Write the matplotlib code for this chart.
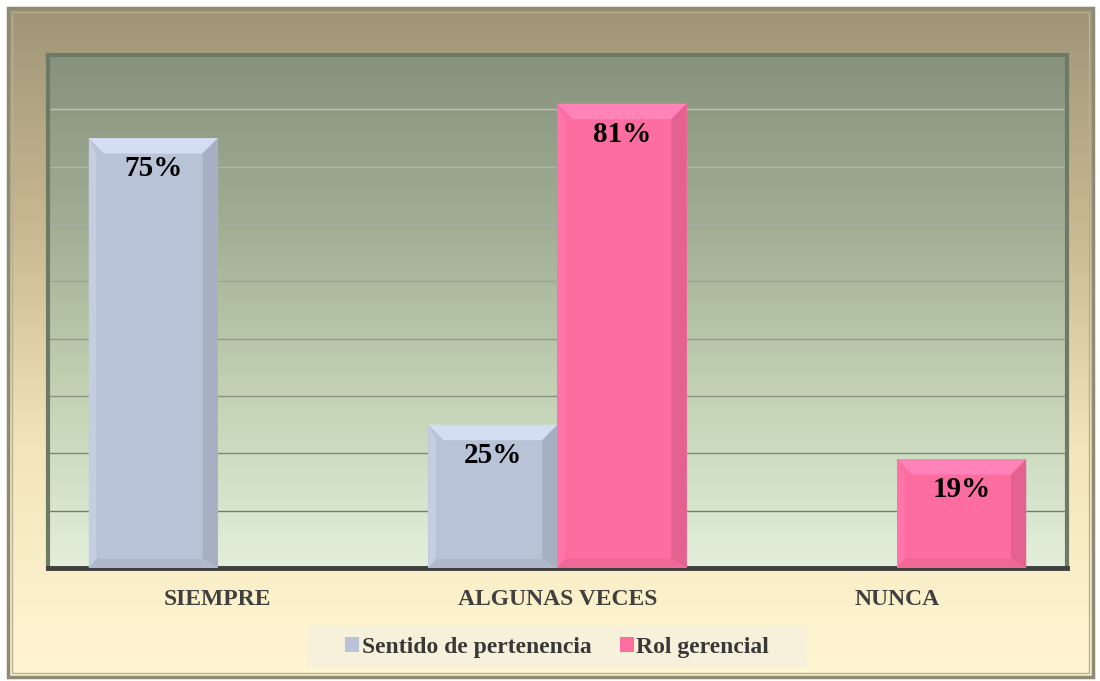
import numpy as np
import matplotlib
matplotlib.use("Agg")
import matplotlib.pyplot as plt
from matplotlib.patches import Rectangle, Polygon
from matplotlib.colors import LinearSegmentedColormap, to_rgb

categories = ["SIEMPRE", "ALGUNAS VECES", "NUNCA"]
series_names = ["Sentido de pertenencia", "Rol gerencial"]
sentido = [0.75, 0.25, 0.0]
rol = [0.0, 0.81, 0.19]
value_labels_sentido = ["75%", "25%", ""]
value_labels_rol = ["", "81%", "19%"]
grid_levels = [0.1, 0.2, 0.3, 0.4, 0.5, 0.6, 0.7, 0.8]

serif = ["Liberation Serif", "DejaVu Serif"]
col_sentido = "#b9c3d7"
col_rol = "#fd6d9f"

fig = plt.figure(figsize=(11, 6.81), dpi=100, facecolor="white")

# figure background gradient
bg = fig.add_axes([0, 0, 1, 1], zorder=-10)
bg.set_xlim(0, 1100)
bg.set_ylim(681, 0)
bg.axis("off")
bg_cmap = LinearSegmentedColormap.from_list("bg", ["#9f9577", "#c9b992", "#f3e6bc", "#fff6d2"])
grad = np.linspace(0, 1, 256).reshape(-1, 1)
bg.imshow(grad, cmap=bg_cmap, extent=[8, 1093, 677, 8], aspect="auto", zorder=0)
bg.add_patch(Rectangle((8, 8), 1085, 669, fill=False, ec="#8f8a72", lw=2.5, zorder=2))
bg.add_patch(Rectangle((12, 12), 1077, 661, fill=False, ec="#b8b094", lw=1, zorder=2))
# legend box
bg.add_patch(Rectangle((307, 626), 500, 42, fc="#f7f0da", ec="none", zorder=1))

ax = fig.add_axes([48 / 1100, 113 / 681, 1019 / 1100, 513 / 681])
ax.set_xlim(-0.5, 2.5)
ax.set_ylim(0, 0.895)
plot_cmap = LinearSegmentedColormap.from_list("pa", ["#e3efdb", "#c3d3b4", "#a2ae94", "#87927d"])
ax.imshow(grad[::-1], cmap=plot_cmap, extent=[-0.5, 2.5, 0, 0.895], aspect="auto", origin="upper", zorder=0)

# gridlines, lighter on the dark top, darker on the light bottom
for g in grid_levels:
    t = g / 0.895
    c = np.array(to_rgb("#6c7068")) * (1 - t) + np.array(to_rgb("#c4cabc")) * t
    ax.axhline(g, color=c, lw=1, zorder=1)

x = np.arange(len(categories))
w = 0.38
b1 = ax.bar(x - w / 2, sentido, w, color=col_sentido, zorder=3, label=series_names[0])
b2 = ax.bar(x + w / 2, rol, w, color=col_rol, zorder=3, label=series_names[1])

# bevel look: trapezoid facets around each bar
dx, dy = 0.045, 0.027
for bars, base in [(b1, col_sentido), (b2, col_rol)]:
    rgb = np.array(to_rgb(base))
    light = np.minimum(rgb * 1.06 + 0.06, 1)
    dark = rgb * 0.9
    for p in bars:
        h = p.get_height()
        if h <= 0:
            continue
        x0, bw = p.get_x(), p.get_width()
        x1 = x0 + bw
        facets = [
            ([(x0, h), (x1, h), (x1 - dx, h - dy), (x0 + dx, h - dy)], light),
            ([(x1, h), (x1, 0), (x1 - dx, dy * 0.6), (x1 - dx, h - dy)], dark),
            ([(x0, h), (x0 + dx * 0.5, h - dy), (x0 + dx * 0.5, dy * 0.6), (x0, 0)], np.minimum(rgb * 1.03 + 0.02, 1)),
            ([(x0, 0), (x1, 0), (x1 - dx, dy * 0.6), (x0 + dx * 0.5, dy * 0.6)], rgb * 0.95),
        ]
        for pts, fc in facets:
            ax.add_patch(Polygon(pts, closed=True, fc=fc, ec="none", zorder=4))

for bars, labels in [(b1, value_labels_sentido), (b2, value_labels_rol)]:
    for p, lab in zip(bars, labels):
        if lab:
            ax.annotate(lab, (p.get_x() + p.get_width() / 2, p.get_height()),
                        xytext=(0, -22), textcoords="offset points", ha="center", va="center",
                        fontsize=21, fontweight="bold", family=serif, color="black", zorder=5)

ax.set_xticks(x)
ax.set_xticklabels(categories, fontsize=17, fontweight="bold", family=serif, color="#404040")
ax.tick_params(axis="x", length=0, pad=15)
ax.set_yticks([])
for s in ["left", "right", "top"]:
    ax.spines[s].set_color("#6e7a66")
    ax.spines[s].set_linewidth(3)
ax.spines["bottom"].set_color("#3f3f3f")
ax.spines["bottom"].set_linewidth(3.5)

leg = fig.legend(handles=[b1, b2], labels=series_names, loc="center", bbox_to_anchor=(557 / 1100, 1 - 647 / 681),
                 ncol=2, frameon=False, handlelength=0.6, handleheight=0.6, handletextpad=0.1, columnspacing=1.2,
                 prop={"family": serif, "weight": "bold", "size": 17})
for t in leg.get_texts():
    t.set_color("#383838")

fig.savefig("out.png", dpi=100, facecolor="white")
